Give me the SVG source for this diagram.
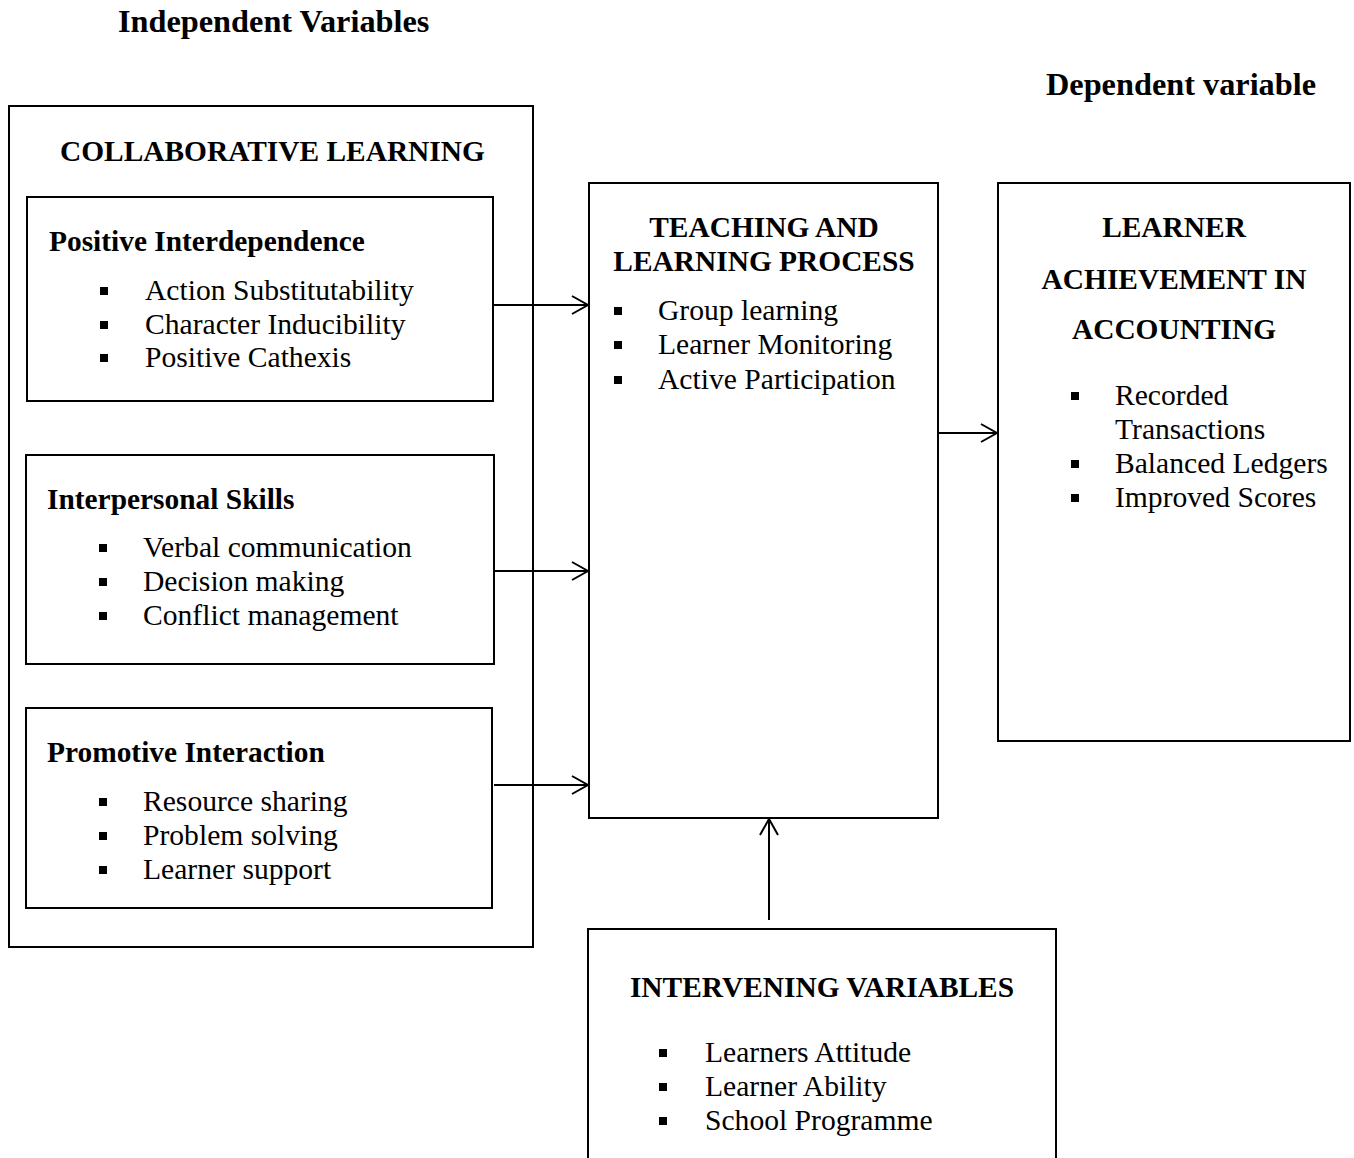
<svg xmlns="http://www.w3.org/2000/svg" width="1354" height="1158" viewBox="0 0 1354 1158">
<style>
.box{fill:none;stroke:#000;stroke-width:2}
.h{font-family:"Liberation Serif",serif;font-weight:bold;font-size:29.4px;fill:#000}
.tt{font-family:"Liberation Serif",serif;font-weight:bold;font-size:32.3px;fill:#000}
.t{font-family:"Liberation Serif",serif;font-size:29.6px;fill:#000}
.c{text-anchor:middle}
.b{fill:#000}
.ln{stroke:#000;stroke-width:2;fill:none}
</style>
<defs>
<marker id="ah" markerWidth="22" markerHeight="22" refX="20" refY="11" orient="auto" markerUnits="userSpaceOnUse">
<path d="M4,2 L20,11 L4,20" fill="none" stroke="#000" stroke-width="2"/>
</marker>
</defs>
<rect width="1354" height="1158" fill="#fff"/>
<text class="tt" x="118" y="32">Independent Variables</text>
<text class="tt" x="1046" y="95">Dependent variable</text>

<g id="collaborative-learning">
<rect class="box" x="9" y="106" width="524" height="841"/>
<text class="h" x="60" y="161">COLLABORATIVE LEARNING</text>
</g>
<g id="positive-interdependence">
<rect class="box" x="27" y="197" width="466" height="204"/>
<text class="h" x="49" y="251">Positive Interdependence</text>
<rect class="b" x="100" y="287" width="8" height="8"/><text class="t" x="145" y="300">Action Substitutability</text>
<rect class="b" x="100" y="321" width="8" height="8"/><text class="t" x="145" y="334">Character Inducibility</text>
<rect class="b" x="100" y="354" width="8" height="8"/><text class="t" x="145" y="367">Positive Cathexis</text>
</g>
<g id="interpersonal-skills">
<rect class="box" x="26" y="455" width="468" height="209"/>
<text class="h" x="47" y="509">Interpersonal Skills</text>
<rect class="b" x="99" y="544" width="8" height="8"/><text class="t" x="143" y="557">Verbal communication</text>
<rect class="b" x="99" y="578" width="8" height="8"/><text class="t" x="143" y="591">Decision making</text>
<rect class="b" x="99" y="612" width="8" height="8"/><text class="t" x="143" y="625">Conflict management</text>
</g>
<g id="promotive-interaction">
<rect class="box" x="26" y="708" width="466" height="200"/>
<text class="h" x="47" y="762">Promotive Interaction</text>
<rect class="b" x="99" y="798" width="8" height="8"/><text class="t" x="143" y="811">Resource sharing</text>
<rect class="b" x="99" y="832" width="8" height="8"/><text class="t" x="143" y="845">Problem solving</text>
<rect class="b" x="99" y="866" width="8" height="8"/><text class="t" x="143" y="879">Learner support</text>
</g>
<g id="teaching-learning-process">
<rect class="box" x="589" y="183" width="349" height="635"/>
<text class="h c" x="764" y="237">TEACHING AND</text>
<text class="h c" x="764" y="271">LEARNING PROCESS</text>
<rect class="b" x="614" y="307" width="8" height="8"/><text class="t" x="658" y="320">Group learning</text>
<rect class="b" x="614" y="341" width="8" height="8"/><text class="t" x="658" y="354">Learner Monitoring</text>
<rect class="b" x="614" y="376" width="8" height="8"/><text class="t" x="658" y="389">Active Participation</text>
</g>
<g id="learner-achievement">
<rect class="box" x="998" y="183" width="352" height="558"/>
<text class="h c" x="1174" y="237">LEARNER</text>
<text class="h c" x="1174" y="289">ACHIEVEMENT IN</text>
<text class="h c" x="1174" y="339">ACCOUNTING</text>
<rect class="b" x="1071" y="392" width="8" height="8"/><text class="t" x="1115" y="405">Recorded</text>
<text class="t" x="1115" y="439">Transactions</text>
<rect class="b" x="1071" y="460" width="8" height="8"/><text class="t" x="1115" y="473">Balanced Ledgers</text>
<rect class="b" x="1071" y="494" width="8" height="8"/><text class="t" x="1115" y="507">Improved Scores</text>
</g>
<g id="intervening-variables">
<path class="ln" d="M588,1160 V929 H1056 V1160"/>
<text class="h c" x="822" y="997">INTERVENING VARIABLES</text>
<rect class="b" x="659" y="1049" width="8" height="8"/><text class="t" x="705" y="1062">Learners Attitude</text>
<rect class="b" x="659" y="1083" width="8" height="8"/><text class="t" x="705" y="1096">Learner Ability</text>
<rect class="b" x="659" y="1117" width="8" height="8"/><text class="t" x="705" y="1130">School Programme</text>
</g>
<g id="connectors">
<line class="ln" x1="494" y1="305" x2="588" y2="305" marker-end="url(#ah)"/>
<line class="ln" x1="494" y1="571" x2="588" y2="571" marker-end="url(#ah)"/>
<line class="ln" x1="494" y1="785" x2="588" y2="785" marker-end="url(#ah)"/>
<line class="ln" x1="938" y1="433" x2="997" y2="433" marker-end="url(#ah)"/>
<line class="ln" x1="769" y1="920" x2="769" y2="819" marker-end="url(#ah)"/>
</g>
</svg>
